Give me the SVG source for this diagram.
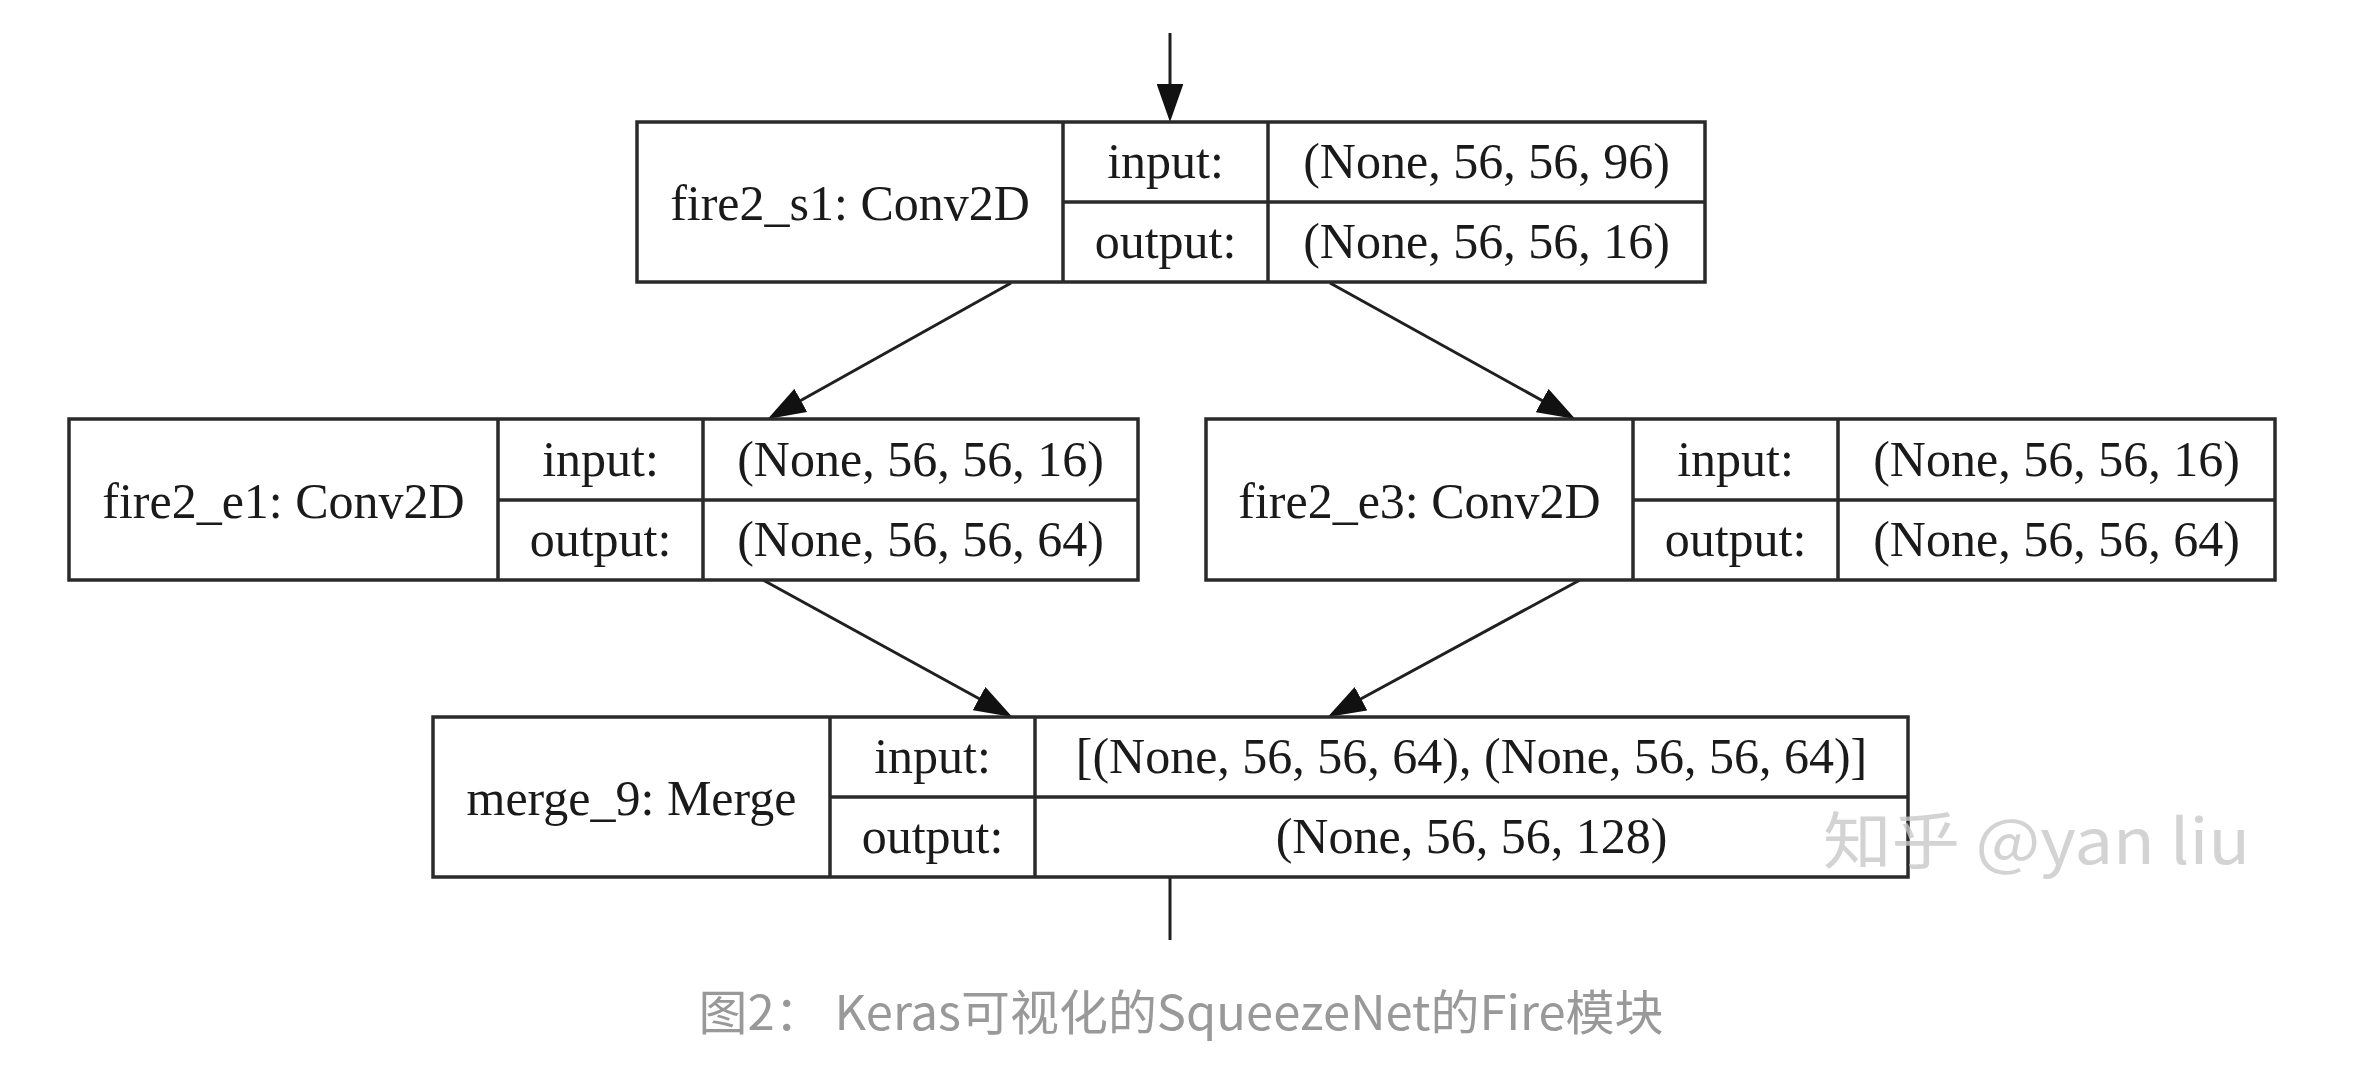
<svg xmlns="http://www.w3.org/2000/svg" width="2366" height="1072" viewBox="0 0 2366 1072">
<style>
.box{fill:#ffffff;stroke:#2a2a2a;stroke-width:3.5}
.div{stroke:#2a2a2a;stroke-width:3.5;fill:none}
.t{font-family:"Liberation Serif","Times New Roman",serif;font-size:50px;fill:#1a1a1a;text-anchor:middle}
.edge{stroke:#1f1f1f;stroke-width:3;fill:none}
.cap{font-family:"Noto Sans CJK SC","Noto Sans",sans-serif;font-size:48px;fill:#999999;text-anchor:middle}
.wm{font-family:"Noto Sans CJK SC","Noto Sans",sans-serif;font-size:62px;fill:#c8c8c8;fill-opacity:0.8}
</style>
<defs>
<marker id="arr" viewBox="0 0 10 7" refX="8.4" refY="3.5" markerWidth="38" markerHeight="26.6" markerUnits="userSpaceOnUse" orient="auto">
<path d="M0,0 L10,3.5 L0,7 z" fill="#111111"/>
</marker>
</defs>
<rect width="2366" height="1072" fill="#ffffff"/>

<g id="connectors">
<line class="edge" x1="1170" y1="33" x2="1170" y2="116" marker-end="url(#arr)"/>
<line class="edge" x1="1011" y1="283" x2="773" y2="416" marker-end="url(#arr)"/>
<line class="edge" x1="1330" y1="283" x2="1570" y2="416" marker-end="url(#arr)"/>
<line class="edge" x1="763" y1="580" x2="1007" y2="714" marker-end="url(#arr)"/>
<line class="edge" x1="1580" y1="580" x2="1333" y2="714" marker-end="url(#arr)"/>
<line class="edge" x1="1170" y1="877" x2="1170" y2="940"/>
</g>

<g id="fire2_s1">
<rect class="box" x="637" y="122" width="1068" height="160"/>
<path class="div" d="M1063,122 V282 M1268,122 V282 M1063,202 H1705"/>
<text class="t" x="850" y="220">fire2_s1: Conv2D</text>
<text class="t" x="1165.5" y="178">input:</text>
<text class="t" x="1486.5" y="178">(None, 56, 56, 96)</text>
<text class="t" x="1165.5" y="258">output:</text>
<text class="t" x="1486.5" y="258">(None, 56, 56, 16)</text>
</g>

<g id="fire2_e1">
<rect class="box" x="69" y="419" width="1069" height="161"/>
<path class="div" d="M498,419 V580 M703,419 V580 M498,500 H1138"/>
<text class="t" x="283.5" y="518">fire2_e1: Conv2D</text>
<text class="t" x="600.5" y="476">input:</text>
<text class="t" x="920.5" y="476">(None, 56, 56, 16)</text>
<text class="t" x="600.5" y="556">output:</text>
<text class="t" x="920.5" y="556">(None, 56, 56, 64)</text>
</g>

<g id="fire2_e3">
<rect class="box" x="1206" y="419" width="1069" height="161"/>
<path class="div" d="M1633,419 V580 M1838,419 V580 M1633,500 H2275"/>
<text class="t" x="1419.5" y="518">fire2_e3: Conv2D</text>
<text class="t" x="1735.5" y="476">input:</text>
<text class="t" x="2056.5" y="476">(None, 56, 56, 16)</text>
<text class="t" x="1735.5" y="556">output:</text>
<text class="t" x="2056.5" y="556">(None, 56, 56, 64)</text>
</g>

<g id="merge_9">
<rect class="box" x="433" y="717" width="1475" height="160"/>
<path class="div" d="M830,717 V877 M1035,717 V877 M830,797 H1908"/>
<text class="t" x="631.5" y="815">merge_9: Merge</text>
<text class="t" x="932.5" y="773">input:</text>
<text class="t" x="1471.5" y="773">[(None, 56, 56, 64), (None, 56, 56, 64)]</text>
<text class="t" x="932.5" y="853">output:</text>
<text class="t" x="1471.5" y="853">(None, 56, 56, 128)</text>
</g>

<text class="wm" x="1823" y="864" textLength="427" lengthAdjust="spacingAndGlyphs">知乎 @yan liu</text>

<text class="cap" x="1181" y="1030" textLength="965" lengthAdjust="spacingAndGlyphs">图2： Keras可视化的SqueezeNet的Fire模块</text>
</svg>
